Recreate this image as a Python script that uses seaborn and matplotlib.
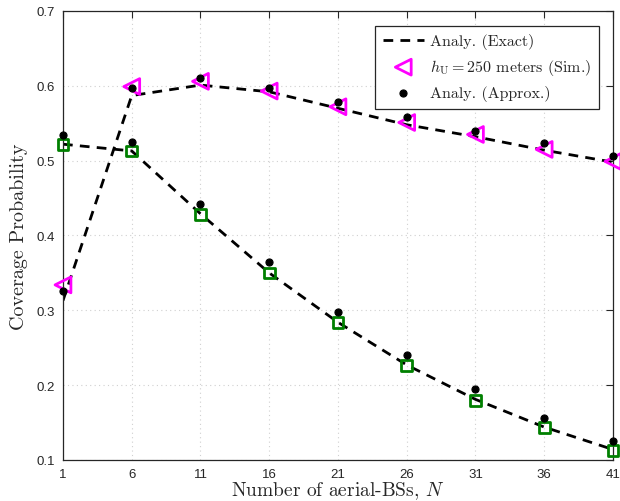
import matplotlib
matplotlib.use("Agg")
import matplotlib.pyplot as plt
import seaborn as sns
import pandas as pd
import numpy as np

# ---- data ----
n_bs = [1, 6, 11, 16, 21, 26, 31, 36, 41]
upper_exact = [0.313, 0.587, 0.601, 0.592, 0.570, 0.548, 0.532, 0.514, 0.498]
upper_sim = [0.334, 0.599, 0.606, 0.593, 0.572, 0.551, 0.535, 0.515, 0.499]
upper_approx = [0.326, 0.597, 0.610, 0.597, 0.578, 0.558, 0.540, 0.523, 0.506]
lower_exact = [0.522, 0.513, 0.429, 0.350, 0.284, 0.227, 0.181, 0.144, 0.114]
lower_sim = [0.522, 0.513, 0.428, 0.350, 0.284, 0.226, 0.180, 0.143, 0.113]
lower_approx = [0.534, 0.525, 0.442, 0.364, 0.298, 0.240, 0.195, 0.156, 0.126]
x_ticks = [1, 6, 11, 16, 21, 26, 31, 36, 41]
y_ticks = [0.1, 0.2, 0.3, 0.4, 0.5, 0.6, 0.7]

sns.set_style("white")
plt.rcParams["mathtext.fontset"] = "cm"
plt.rcParams["font.family"] = ["Liberation Sans", "DejaVu Sans"]

fig = plt.figure(figsize=(6.2, 5.02), dpi=100)
ax = fig.add_axes([0.1016, 0.0817, 0.887, 0.8944])

up = pd.DataFrame({"N": n_bs, "exact": upper_exact, "sim": upper_sim, "approx": upper_approx})
lo = pd.DataFrame({"N": n_bs, "exact": lower_exact, "sim": lower_sim, "approx": lower_approx})

ls_kw = dict(color="black", linewidth=2.0, dashes=(3.5, 2.6))
sns.lineplot(data=up, x="N", y="exact", ax=ax, label="Analy. (Exact)", **ls_kw)
sns.lineplot(data=lo, x="N", y="exact", ax=ax, label="_nolegend_", **ls_kw)

sns.scatterplot(data=up, x="N", y="sim", ax=ax, marker="<", s=130,
                facecolors="none", edgecolor="#ff00ff", linewidth=2.0,
                label=r"$h_{\rm U} = 250$ meters (Sim.)", zorder=4, clip_on=False)
sns.scatterplot(data=lo, x="N", y="sim", ax=ax, marker="s", s=60,
                facecolors="none", edgecolor="#008000", linewidth=2.0,
                label="_nolegend_", zorder=4, clip_on=False)

approx_marker = "o"
sns.scatterplot(data=up, x="N", y="approx", ax=ax, marker=approx_marker, s=26,
                color="black", edgecolor="black", linewidth=0.8,
                label="Analy. (Approx.)", zorder=5, clip_on=False)
sns.scatterplot(data=lo, x="N", y="approx", ax=ax, marker=approx_marker, s=26,
                color="black", edgecolor="black", linewidth=0.8,
                label="_nolegend_", zorder=5, clip_on=False)

ax.set_xlim(1, 41)
ax.set_ylim(0.1, 0.7)
ax.set_xticks(x_ticks)
ax.set_yticks(y_ticks)
ax.set_xticklabels([str(v) for v in x_ticks])
ax.set_yticklabels([f"{v:.1f}" for v in y_ticks])
ax.tick_params(direction="in", length=5, width=0.8, top=True, right=True,
               labelsize=9.5, labelcolor="#262626", color="#262626", pad=6)
ax.tick_params(axis="x", pad=5.5)
ax.grid(True, linestyle=(0, (1, 3)), color="#d0d0d0", linewidth=0.8)
for sp in ax.spines.values():
    sp.set_color("#262626")
    sp.set_linewidth(0.9)
    sp.set_visible(True)

ax.set_xlabel(r"Number of aerial-BSs, $N$", fontsize=14, family="cmr10",
              color="#262626", labelpad=0)
ax.set_ylabel("Coverage Probability", fontsize=14.5, family="cmr10",
              color="#262626", labelpad=6)

leg = ax.legend(loc="upper right", bbox_to_anchor=(0.989, 0.984),
                prop={"family": "cmr10", "size": 11.5}, frameon=True,
                fancybox=False, edgecolor="#262626", framealpha=1,
                borderpad=0.45, handlelength=2.6, handletextpad=0.4,
                labelspacing=0.5)
leg.get_frame().set_linewidth(0.9)

fig.savefig("out.png", dpi=100)
